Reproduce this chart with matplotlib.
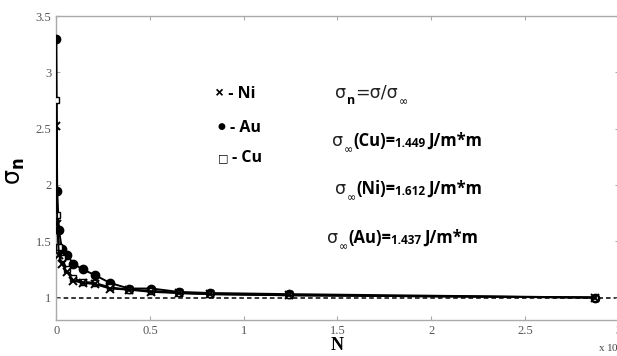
import matplotlib
matplotlib.use("Agg")
import matplotlib.pyplot as plt

# Data (N in units of 1e4)
N = [13, 55, 147, 309, 561, 923, 1415, 2057, 2869, 3871, 5083, 6525, 8217, 12431, 28741]
au = [3.30, 1.95, 1.60, 1.43, 1.38, 1.30, 1.25, 1.20, 1.13, 1.08, 1.08, 1.05, 1.04, 1.03, 1.00]
cu = [2.75, 1.73, 1.45, 1.35, 1.25, 1.17, 1.14, 1.13, 1.09, 1.07, 1.06, 1.04, 1.03, 1.02, 1.00]
ni = [2.52, 1.65, 1.38, 1.30, 1.23, 1.15, 1.13, 1.12, 1.08, 1.07, 1.05, 1.04, 1.03, 1.02, 1.00]
xticks = [0, 0.5, 1, 1.5, 2, 2.5, 3]
yticks = [1, 1.5, 2, 2.5, 3, 3.5]

x = [n / 1e4 for n in N]

fig = plt.figure(figsize=(6.17, 3.56), dpi=100)
ax = fig.add_axes([0.091, 0.101, 0.912, 0.854])
ax.set_xlim(0, 3)
ax.set_ylim(0.8, 3.5)

ax.axhline(1.0, color='black', lw=1.1, ls=(0, (3, 2)), zorder=1)
ax.plot(x, au, color='black', lw=1.4, marker='o', ms=6, mfc='black', mec='black', zorder=3)
ax.plot(x, cu, color='black', lw=1.4, marker='s', ms=5, mfc='white', mec='black', mew=1.0, zorder=3)
ax.plot(x, ni, color='black', lw=1.4, marker='x', ms=6, mec='black', mew=1.4, zorder=4)

for s in ax.spines.values():
    s.set_color('#aaaaaa')
    s.set_linewidth(1.0)
ax.set_xticks(xticks)
ax.set_xticklabels(['0', '0.5', '1', '1.5', '2', '2.5', '3'])
ax.set_yticks(yticks)
ax.set_yticklabels(['1', '1.5', '2', '2.5', '3', '3.5'])
ax.tick_params(direction='in', length=3, color='#aaaaaa', labelcolor='#555555',
               top=True, right=True, labelsize=9)
for lab in ax.get_xticklabels() + ax.get_yticklabels():
    lab.set_family('Liberation Serif')

ax.set_xlabel('N', fontsize=13, fontweight='bold', family='Liberation Serif', labelpad=0)
fig.text(0.025, 0.52, r'$\mathrm{\sigma}_{\mathbf{n}}$', fontsize=17, rotation=90,
         ha='center', va='center', fontweight='bold')
fig.text(0.97, 0.012, r'x 10$^4$', fontsize=8, family='Liberation Serif', color='#444444')

# legend-like labels
fam = ['Open Sans', 'DejaVu Sans']
lf = dict(fontsize=11.5, fontweight='bold', family=fam)
fig.text(0.348, 0.725, '× - Ni', **lf)
fig.text(0.353, 0.637, '●', fontsize=6.5, family=fam)
fig.text(0.373, 0.630, '- Au', **lf)
fig.text(0.353, 0.548, '□', fontsize=8, family=fam)
fig.text(0.376, 0.545, '- Cu', **lf)


def chain(x0, y0, metal, val):
    t1 = fig.text(x0, y0, 'σ', fontsize=12.5, family='DejaVu Sans', color='#222222')
    sub = ax.annotate('∞', xy=(1, 0), xycoords=t1, xytext=(0.5, -4), textcoords='offset points',
                      fontsize=8, family='DejaVu Sans', va='bottom', annotation_clip=False)
    a = ax.annotate('(' + metal + ')=', xy=(1, 0), xycoords=(sub, t1), fontsize=12,
                    fontweight='bold', family=fam, va='bottom', annotation_clip=False)
    b = ax.annotate(val + ' ', xy=(1, 0), xycoords=a, fontsize=8.5,
                    fontweight='bold', family=fam, va='bottom', annotation_clip=False)
    ax.annotate('J/m*m', xy=(1, 0), xycoords=b, fontsize=12,
                fontweight='bold', family=fam, va='bottom', annotation_clip=False)


t0 = fig.text(0.543, 0.725, 'σ', fontsize=12.5, family='DejaVu Sans', color='#222222')
s0 = ax.annotate('n', xy=(1, 0), xycoords=t0, xytext=(0.5, -4), textcoords='offset points',
                 fontsize=9, fontweight='bold', family=fam, va='bottom', annotation_clip=False)
e0 = ax.annotate('=σ/σ', xy=(1, 0), xycoords=(s0, t0), fontsize=12.5, family='DejaVu Sans',
                 color='#222222', va='bottom', annotation_clip=False)
ax.annotate('∞', xy=(1, 0), xycoords=e0, xytext=(0.5, -4), textcoords='offset points',
            fontsize=8, family='DejaVu Sans', va='bottom', annotation_clip=False)

chain(0.538, 0.590, 'Cu', '1.449')
chain(0.543, 0.455, 'Ni', '1.612')
chain(0.530, 0.318, 'Au', '1.437')

fig.savefig('out.png', dpi=100)
